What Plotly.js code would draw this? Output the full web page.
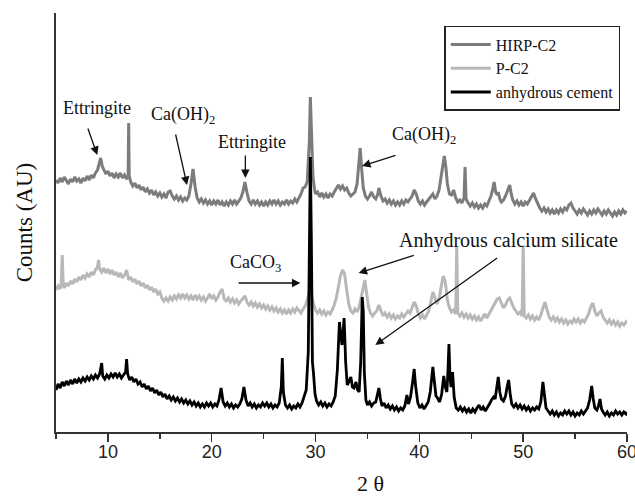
<!DOCTYPE html>
<html>
<head>
<meta charset="utf-8">
<script src="https://cdn.plot.ly/plotly-3.0.1.min.js"></script>
<style>html,body{margin:0;padding:0;background:#fff;}#chart{width:635px;height:496px;}</style>
</head>
<body>
<div id="chart"></div>
<script>
// Series names
const seriesNames = ["HIRP-C2", "P-C2", "anhydrous cement"];

// HIRP-C2 (2θ, counts AU)
const hirpX = [5.0,5.2,5.4,5.6,5.8,6.0,6.2,6.4,6.6,6.8,7.0,7.2,7.4,7.6,7.8,8.0,8.2,8.4,8.6,8.8,9.0,9.15,9.3,9.45,9.6,9.8,10.0,10.2,10.4,10.6,10.8,11.0,11.2,11.4,11.6,11.8,11.95,12.0,12.05,12.2,12.4,12.6,12.8,13.0,13.2,13.4,13.6,13.8,14.0,14.2,14.4,14.6,14.8,15.0,15.2,15.4,15.6,15.8,16.0,16.2,16.4,16.6,16.8,17.0,17.2,17.4,17.6,17.8,18.0,18.2,18.4,18.6,18.8,19.0,19.2,19.4,19.6,19.8,20.0,20.2,20.4,20.6,20.8,21.0,21.2,21.4,21.6,21.8,22.0,22.2,22.4,22.6,22.8,23.0,23.2,23.4,23.6,23.8,24.0,24.2,24.4,24.6,24.8,25.0,25.2,25.4,25.6,25.8,26.0,26.2,26.4,26.6,26.8,27.0,27.2,27.4,27.6,27.8,28.0,28.2,28.4,28.6,28.8,29.0,29.2,29.4,29.5,29.6,29.75,29.9,30.0,30.2,30.4,30.6,30.8,31.0,31.2,31.4,31.6,31.8,32.0,32.2,32.4,32.6,32.8,33.0,33.2,33.4,33.6,33.8,34.0,34.15,34.3,34.45,34.6,34.8,35.0,35.2,35.4,35.6,35.8,36.0,36.1,36.3,36.5,36.7,36.9,37.1,37.3,37.5,37.7,37.9,38.1,38.3,38.5,38.7,38.9,39.1,39.3,39.5,39.7,39.9,40.1,40.3,40.5,40.7,40.9,41.1,41.3,41.5,41.7,41.9,42.1,42.3,42.4,42.55,42.7,42.9,43.1,43.3,43.5,43.7,43.9,44.1,44.3,44.4,44.5,44.7,44.9,45.1,45.3,45.5,45.7,45.9,46.1,46.3,46.5,46.7,46.9,47.05,47.2,47.35,47.5,47.6,47.75,47.9,48.1,48.3,48.5,48.7,48.85,49.0,49.2,49.4,49.6,49.8,50.0,50.2,50.4,50.6,50.8,51.0,51.2,51.4,51.6,51.8,52.0,52.2,52.4,52.6,52.8,53.0,53.2,53.4,53.6,53.8,54.0,54.2,54.4,54.6,54.8,55.0,55.2,55.4,55.6,55.8,56.0,56.2,56.4,56.6,56.8,57.0,57.2,57.4,57.6,57.8,58.0,58.2,58.4,58.6,58.8,59.0,59.2,59.4,59.6,59.8,60.0];
const hirpY = [252,249,254,250,255,251,248,253,250,255,251,253,249,254,251,256,252,257,254,259,262,268,274,266,262,258,261,256,259,254,258,255,259,254,257,253,256,309,256,250,246,249,244,247,242,245,240,243,239,242,237,240,236,239,235,238,234,240,241,236,233,236,232,235,231,234,232,236,248,263,245,234,230,233,229,232,228,231,227,231,228,232,227,230,226,230,227,231,228,232,228,231,234,240,250,239,231,228,232,228,231,227,230,226,230,227,231,228,232,228,231,227,230,228,232,228,231,229,233,230,234,238,244,245,250,290,335,300,255,243,238,240,235,239,235,238,234,238,236,240,244,247,243,246,242,244,239,236,238,240,248,265,284,262,244,236,233,236,240,235,233,238,244,236,231,233,229,232,228,231,227,230,227,231,228,232,230,233,236,242,238,231,228,231,227,230,233,236,238,233,236,242,255,272,276,265,248,238,237,242,234,230,232,229,234,265,233,229,226,229,225,228,224,227,224,228,226,231,236,242,250,240,237,240,233,230,232,236,241,247,238,232,228,231,227,230,226,230,228,232,236,239,233,228,224,221,224,220,223,219,222,218,222,219,223,220,224,222,227,229,224,221,218,222,219,223,220,217,221,218,222,219,223,220,217,221,218,222,219,216,220,217,221,218,222,219,221];

// P-C2
const pX = [5.0,5.2,5.4,5.5,5.6,5.7,5.8,6.0,6.2,6.4,6.6,6.8,7.0,7.2,7.4,7.6,7.8,8.0,8.2,8.4,8.6,8.8,9.0,9.1,9.2,9.4,9.6,9.8,10.0,10.2,10.4,10.6,10.8,11.0,11.2,11.4,11.6,11.8,12.0,12.2,12.4,12.6,12.8,13.0,13.2,13.4,13.6,13.8,14.0,14.2,14.4,14.6,14.8,15.0,15.2,15.4,15.6,15.8,16.0,16.2,16.4,16.6,16.8,17.0,17.2,17.4,17.6,17.8,18.0,18.2,18.4,18.6,18.8,19.0,19.2,19.4,19.6,19.8,20.0,20.2,20.4,20.6,20.8,21.0,21.2,21.4,21.6,21.8,22.0,22.2,22.4,22.6,22.8,23.0,23.2,23.4,23.6,23.8,24.0,24.2,24.4,24.6,24.8,25.0,25.2,25.4,25.6,25.8,26.0,26.2,26.4,26.6,26.8,27.0,27.2,27.4,27.6,27.8,28.0,28.2,28.4,28.6,28.8,29.0,29.2,29.4,29.5,29.6,29.8,30.0,30.2,30.4,30.6,30.8,31.0,31.2,31.4,31.6,31.8,32.0,32.2,32.4,32.6,32.8,33.0,33.2,33.4,33.6,33.8,34.0,34.2,34.4,34.6,34.75,34.9,35.1,35.3,35.5,35.7,35.9,36.1,36.3,36.5,36.7,36.9,37.1,37.3,37.5,37.7,37.9,38.1,38.3,38.5,38.7,38.9,39.1,39.3,39.5,39.7,39.9,40.1,40.3,40.5,40.7,40.9,41.1,41.3,41.5,41.7,41.9,42.1,42.3,42.5,42.7,42.9,43.1,43.3,43.5,43.6,43.7,43.9,44.1,44.3,44.5,44.7,44.9,45.1,45.3,45.5,45.7,45.9,46.1,46.3,46.5,46.7,46.9,47.1,47.3,47.5,47.7,47.9,48.1,48.3,48.5,48.7,48.9,49.1,49.3,49.5,49.7,49.9,50.0,50.1,50.3,50.5,50.7,50.9,51.1,51.3,51.5,51.7,51.9,52.1,52.3,52.5,52.7,52.9,53.1,53.3,53.5,53.7,53.9,54.1,54.3,54.5,54.7,54.9,55.1,55.3,55.5,55.7,55.9,56.1,56.3,56.5,56.7,56.9,57.1,57.3,57.5,57.7,57.9,58.1,58.3,58.5,58.7,58.9,59.1,59.3,59.5,59.7,59.9,60.0];
const pY = [142,146,143,148,177,147,144,149,146,151,148,153,150,155,152,157,154,158,155,160,157,162,165,172,163,160,164,159,163,158,162,157,160,155,159,154,157,162,152,155,150,153,148,151,146,149,144,147,142,145,140,143,138,140,134,131,134,131,135,132,136,133,137,134,138,134,137,133,136,132,137,133,136,132,135,131,134,138,133,136,132,135,140,143,133,131,134,130,133,129,132,128,131,133,136,130,127,130,126,129,125,128,124,127,123,126,122,125,121,124,120,123,119,122,118,122,119,123,120,124,121,119,123,126,132,140,145,138,128,122,119,122,118,121,117,120,118,122,127,134,145,156,162,158,142,128,121,119,123,120,125,135,148,152,140,125,119,116,119,121,127,121,116,119,115,118,114,117,113,116,114,118,115,118,121,119,124,130,126,118,114,117,113,117,121,130,140,134,128,134,146,156,150,132,124,120,122,118,185,119,116,119,115,118,114,117,113,116,112,115,111,115,118,114,118,122,126,129,133,134,128,124,127,132,134,129,124,121,118,120,116,185,116,114,117,113,116,112,115,112,117,124,130,122,115,112,115,111,114,110,113,109,112,108,111,109,113,110,113,109,112,110,114,118,125,129,121,116,119,121,115,112,109,112,108,111,107,110,106,109,107,110,108];

// anhydrous cement
const cemX = [5.0,5.2,5.4,5.6,5.8,6.0,6.2,6.4,6.6,6.8,7.0,7.2,7.4,7.6,7.8,8.0,8.2,8.4,8.6,8.8,9.0,9.2,9.4,9.5,9.7,9.9,10.1,10.3,10.5,10.7,10.9,11.1,11.3,11.5,11.7,11.8,11.9,12.1,12.3,12.5,12.7,12.9,13.1,13.3,13.5,13.7,13.9,14.1,14.3,14.5,14.7,14.9,15.1,15.3,15.5,15.7,15.9,16.1,16.3,16.5,16.7,16.9,17.1,17.3,17.5,17.7,17.9,18.1,18.3,18.5,18.7,18.9,19.1,19.3,19.5,19.7,19.9,20.1,20.3,20.5,20.7,20.9,21.1,21.3,21.5,21.7,21.9,22.1,22.3,22.5,22.7,22.9,23.1,23.3,23.5,23.7,23.9,24.1,24.3,24.5,24.7,24.9,25.1,25.3,25.5,25.7,25.9,26.1,26.3,26.5,26.7,26.8,26.9,27.1,27.3,27.5,27.7,27.9,28.1,28.3,28.5,28.7,28.9,29.1,29.3,29.4,29.5,29.6,29.7,29.8,29.95,30.1,30.3,30.5,30.7,30.9,31.1,31.3,31.5,31.7,31.9,32.1,32.3,32.45,32.55,32.65,32.75,32.9,33.05,33.2,33.4,33.55,33.7,33.9,34.05,34.2,34.35,34.5,34.6,34.7,34.85,35.0,35.2,35.4,35.6,35.8,36.0,36.1,36.25,36.4,36.6,36.8,37.0,37.2,37.4,37.6,37.8,38.0,38.2,38.4,38.6,38.8,38.95,39.15,39.35,39.5,39.65,39.85,40.05,40.25,40.45,40.65,40.85,41.05,41.2,41.3,41.45,41.6,41.75,41.95,42.15,42.35,42.5,42.65,42.75,42.85,42.95,43.05,43.2,43.35,43.55,43.75,43.95,44.15,44.35,44.55,44.75,44.95,45.15,45.35,45.55,45.75,45.95,46.15,46.35,46.55,46.75,46.95,47.15,47.3,47.45,47.6,47.75,47.9,48.1,48.3,48.45,48.6,48.75,48.9,49.1,49.3,49.5,49.7,49.9,50.1,50.3,50.5,50.7,50.9,51.1,51.3,51.5,51.7,51.9,52.05,52.2,52.4,52.6,52.8,53.0,53.2,53.4,53.6,53.8,54.0,54.2,54.4,54.6,54.8,55.0,55.2,55.4,55.6,55.8,56.0,56.2,56.4,56.6,56.75,56.9,57.1,57.25,57.4,57.55,57.7,57.9,58.1,58.3,58.5,58.7,58.9,59.1,59.3,59.5,59.7,59.9,60.0];
const cemY = [42,48,44,50,46,51,47,52,48,53,49,53,50,54,51,55,52,56,53,57,54,58,69,56,53,57,54,58,55,59,55,58,54,57,60,73,58,52,55,50,53,48,50,45,48,43,46,41,44,39,42,37,40,35,38,33,36,32,35,31,34,30,33,29,32,28,31,27,30,26,29,25,28,25,29,26,29,25,28,26,32,44,30,26,29,25,28,24,27,25,28,33,45,32,26,29,25,28,24,27,25,29,26,29,25,28,24,27,25,29,45,74,40,27,24,27,23,26,24,28,25,29,36,42,80,200,275,190,70,59,38,31,27,30,26,29,25,28,26,30,36,62,110,95,87,100,114,70,47,50,55,45,44,50,42,40,70,135,120,60,32,27,30,26,29,30,38,44,33,26,29,24,27,23,26,22,25,21,24,22,26,37,28,35,50,63,45,29,24,27,23,26,30,40,55,65,50,36,34,30,38,56,45,40,60,88,55,45,60,35,24,22,25,21,24,20,23,19,23,20,24,27,22,25,21,24,28,32,35,33,45,55,40,33,31,36,45,52,38,28,25,28,24,27,23,26,22,25,21,24,22,25,23,30,50,35,24,21,18,21,17,20,16,19,17,21,18,21,17,20,16,19,17,21,18,21,24,32,46,33,24,22,26,33,23,20,17,20,16,19,17,21,18,20,17,20,18,20];

const serif = "Liberation Serif, Times New Roman, serif";
const sans = "Liberation Sans, Arial, sans-serif";

const traces = [
  {x: hirpX, y: hirpY, name: seriesNames[0], type: "scatter", mode: "lines", line: {color: "#7c7c7c", width: 3}},
  {x: pX, y: pY, name: seriesNames[1], type: "scatter", mode: "lines", line: {color: "#b8b8b8", width: 3}},
  {x: cemX, y: cemY, name: seriesNames[2], type: "scatter", mode: "lines", line: {color: "#000000", width: 2.8}}
];

function label(x, y, text, size) {
  return {x: x, y: y, xref: "x", yref: "y", text: text, showarrow: false,
          font: {family: serif, size: size || 18, color: "#111"}, xanchor: "center", yanchor: "middle"};
}
function arrow(tx, ty, hx, hy) {
  return {x: hx, y: hy, ax: tx, ay: ty, xref: "x", yref: "y", axref: "x", ayref: "y",
          text: "", showarrow: true, arrowhead: 2, arrowsize: 1.3, arrowwidth: 1.3,
          arrowcolor: "#111", standoff: 0, startstandoff: 0};
}

const annotations = [
  label(8.98, 324, "Ettringite"),
  arrow(8.02, 305, 8.98, 277),
  label(17.26, 317, "Ca(OH)<sub>2</sub>"),
  arrow(16.49, 299, 17.62, 247),
  label(23.91, 290, "Ettringite"),
  arrow(23.24, 278, 23.24, 254),
  label(40.47, 297, "Ca(OH)<sub>2</sub>"),
  arrow(37.85, 277, 34.48, 266),
  label(24.19, 169, "CaCO<sub>3</sub>"),
  arrow(22.44, 149, 28.54, 149),
  label(48.57, 192, "Anhydrous calcium silicate", 20),
  arrow(39.61, 177, 34.15, 159),
  arrow(47.64, 175, 35.76, 87),
  {x: 0.55, y: -0.124, xref: "paper", yref: "paper", text: "2 θ", showarrow: false,
   font: {family: serif, size: 22, color: "#111"}, xanchor: "center", yanchor: "middle"}
];

const layout = {
  width: 635, height: 496,
  margin: {l: 56, r: 8, t: 13, b: 64},
  paper_bgcolor: "#fff", plot_bgcolor: "#fff",
  showlegend: true,
  legend: {x: 0.68, y: 0.969, xanchor: "left", yanchor: "top", bgcolor: "#fff",
           bordercolor: "#222", borderwidth: 1.5, font: {family: serif, size: 16, color: "#111"},
           itemwidth: 40, tracegroupgap: 0},
  xaxis: {range: [5, 60], showgrid: false, zeroline: false, showline: true, linecolor: "#333", linewidth: 2,
          ticks: "outside", ticklen: 8, tickwidth: 1.5, tickcolor: "#333",
          tickmode: "linear", tick0: 0, dtick: 10, ticklabeloverflow: "allow",
          ticklabelstandoff: -6,
          minor: {dtick: 5, tick0: 0, ticks: "outside", ticklen: 5, tickwidth: 1.5, tickcolor: "#333"},
          tickfont: {family: sans, size: 18, color: "#222"}},
  yaxis: {range: [0, 419], showgrid: false, zeroline: false, showline: true, linecolor: "#333", linewidth: 2,
          ticks: "", showticklabels: false,
          title: {text: "Counts (AU)", font: {family: serif, size: 23, color: "#111"}, standoff: 15}},
  annotations: annotations
};

Plotly.newPlot("chart", traces, layout, {displayModeBar: false, staticPlot: true});
</script>
</body>
</html>
